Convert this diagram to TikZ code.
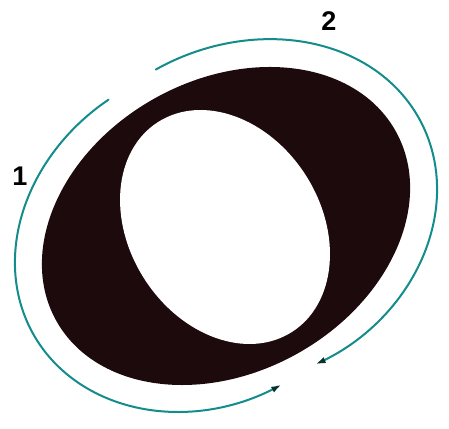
\documentclass[tikz,border=0pt]{standalone}
\usepackage{fontspec}
\setmainfont{Liberation Sans}
\usetikzlibrary{arrows.meta}
\definecolor{tealline}{RGB}{20,140,140}
\definecolor{ink}{RGB}{28,10,12}
\begin{document}
\begin{tikzpicture}[x=1pt,y=1pt,
  declare function={
    fa(\t)=1-0.03*max(0,(181.5-\t)/80.5)^4-0.05*max(0,(\t-181.5)/80.5)^4;
    fb(\s)=1-0.027*max(0,(86.5-\s)/86.5)^4-0.065*max(0,(\s-86.5)/86.5)^4;
  },
  turnarc/.style={draw=tealline, line width=2pt, line cap=round,
    -{Latex[length=10pt,width=6.5pt,color=tealline!35!black]}},
  lbl/.style={font=\fontsize{27}{27}\selectfont\bfseries, text=black, inner sep=0pt}]
\useasboundingbox[fill=white] (0,0) rectangle (449,428);
% outer black ellipse and arcs
\begin{scope}[shift={(226,202)}, rotate=29.2]
  \fill[ink] (0,0) ellipse[x radius=194.4, y radius=146.2];
  \draw[turnarc] plot[domain=101:262, samples=90, variable=\t, smooth]
    ({221*fa(\t)*cos(\t)},{176*fa(\t)*sin(\t)});
  \draw[turnarc] plot[domain=0:173, samples=90, variable=\s, smooth]
    ({221*fb(\s)*cos(86-\s)},{176*fb(\s)*sin(86-\s)});
\end{scope}
% inner white ellipse
\begin{scope}[shift={(225,201)}, rotate=-57.5]
  \fill[white] (0,0) ellipse[x radius=124.5, y radius=95.9];
\end{scope}
\node[lbl] (one) at (20,252) {1};
\node[lbl] (two) at (329,407) {2};
\end{tikzpicture}
\end{document}
